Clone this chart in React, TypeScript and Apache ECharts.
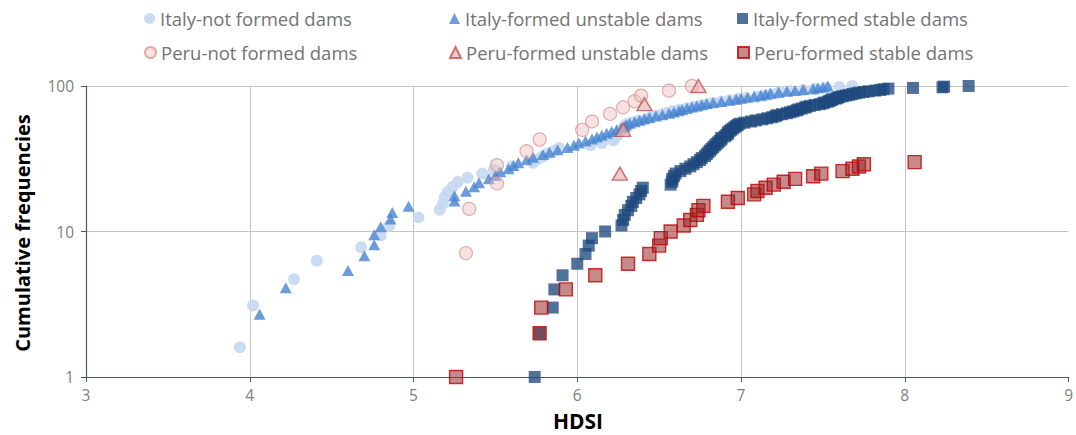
import React, { useEffect, useRef } from "react";
import * as echarts from "echarts";

// ---- Data (HDSI values and cumulative frequencies) ----
const italyNotHdsi = [3.94, 4.02, 4.27, 4.41, 4.68, 4.80, 4.85, 5.03, 5.16, 5.18, 5.19, 5.21, 5.24, 5.27, 5.33, 5.42, 5.49, 5.60, 5.73, 5.76, 5.79, 5.82, 5.86, 5.89, 6.08, 6.15, 6.22, 6.23, 6.24, 6.25, 6.26, 6.27, 6.28, 6.29, 6.30, 6.34, 6.38, 6.42, 6.45, 6.48, 6.52, 6.55, 6.58, 6.62, 6.67, 6.71, 6.75, 6.79, 6.83, 6.88, 6.93, 6.98, 7.03, 7.10, 7.14, 7.18, 7.22, 7.24, 7.30, 7.38, 7.45, 7.52, 7.60, 7.68];
const italyNotFreq = [1.6, 3.1, 4.7, 6.3, 7.8, 9.4, 10.9, 12.5, 14.1, 15.6, 17.2, 18.8, 20.3, 21.9, 23.4, 25.0, 26.6, 28.1, 29.7, 31.3, 32.8, 34.4, 35.9, 37.5, 39.1, 40.6, 42.2, 43.8, 45.3, 46.9, 48.4, 50.0, 51.6, 53.1, 54.7, 56.3, 57.8, 59.4, 60.9, 62.5, 64.1, 65.6, 67.2, 68.8, 70.3, 71.9, 73.4, 75.0, 76.6, 78.1, 79.7, 81.3, 82.8, 84.4, 85.9, 87.5, 89.1, 90.6, 92.2, 93.8, 95.3, 96.9, 98.4, 100];

const italyUnstableHdsi = [4.06, 4.22, 4.60, 4.70, 4.76, 4.76, 4.80, 4.86, 4.87, 4.97, 5.25, 5.25, 5.32, 5.37, 5.40, 5.46, 5.50, 5.53, 5.58, 5.61, 5.64, 5.69, 5.73, 5.79, 5.83, 5.88, 5.94, 5.98, 6.01, 6.05, 6.09, 6.12, 6.15, 6.18, 6.21, 6.24, 6.27, 6.29, 6.30, 6.32, 6.35, 6.38, 6.41, 6.44, 6.48, 6.52, 6.56, 6.59, 6.62, 6.64, 6.67, 6.70, 6.73, 6.76, 6.79, 6.83, 6.88, 6.93, 6.97, 7.00, 7.04, 7.08, 7.12, 7.15, 7.18, 7.23, 7.28, 7.33, 7.38, 7.44, 7.47, 7.50, 7.53];
const italyUnstableFreq = [2.7, 4.1, 5.4, 6.8, 8.1, 9.5, 10.8, 12.2, 13.5, 14.9, 16.2, 17.6, 18.9, 20.3, 21.6, 23.0, 24.3, 25.7, 27.0, 28.4, 29.7, 31.1, 32.4, 33.8, 35.1, 36.5, 37.8, 39.2, 40.5, 41.9, 43.2, 44.6, 45.9, 47.3, 48.6, 50.0, 51.4, 52.7, 54.1, 55.4, 56.8, 58.1, 59.5, 60.8, 62.2, 63.5, 64.9, 66.2, 67.6, 68.9, 70.3, 71.6, 73.0, 74.3, 75.7, 77.0, 78.4, 79.7, 81.1, 82.4, 83.8, 85.1, 86.5, 87.8, 89.2, 90.5, 91.9, 93.2, 94.6, 95.9, 97.3, 98.6, 100];

const italyStableHdsi = [5.74, 5.77, 5.85, 5.86, 5.91, 6.00, 6.05, 6.07, 6.09, 6.17, 6.27, 6.28, 6.29, 6.31, 6.33, 6.34, 6.36, 6.38, 6.39, 6.40, 6.57, 6.58, 6.58, 6.59, 6.60, 6.63, 6.66, 6.69, 6.71, 6.73, 6.75, 6.76, 6.78, 6.79, 6.80, 6.81, 6.82, 6.83, 6.84, 6.85, 6.86, 6.87, 6.88, 6.88, 6.90, 6.91, 6.92, 6.92, 6.93, 6.94, 6.95, 6.96, 6.97, 6.98, 6.99, 7.02, 7.06, 7.09, 7.13, 7.16, 7.19, 7.21, 7.22, 7.25, 7.28, 7.30, 7.32, 7.34, 7.35, 7.37, 7.39, 7.40, 7.42, 7.45, 7.48, 7.50, 7.51, 7.53, 7.54, 7.55, 7.56, 7.58, 7.59, 7.60, 7.62, 7.64, 7.66, 7.68, 7.70, 7.72, 7.75, 7.78, 7.82, 7.85, 7.87, 7.90, 8.05, 8.23, 8.24, 8.39];
const italyStableFreq = [1, 2, 3, 4, 5, 6, 7, 8, 9, 10, 11, 12, 13, 14, 15, 16, 17, 18, 19, 20, 21, 22, 23, 24, 25, 26, 27, 28, 29, 30, 31, 32, 33, 34, 35, 36, 37, 38, 39, 40, 41, 42, 43, 44, 45, 46, 47, 48, 49, 50, 51, 52, 53, 54, 55, 56, 57, 58, 59, 60, 61, 62, 63, 64, 65, 66, 67, 68, 69, 70, 71, 72, 73, 74, 75, 76, 77, 78, 79, 80, 81, 82, 83, 84, 85, 86, 87, 88, 89, 90, 91, 92, 93, 94, 95, 96, 97, 98, 99, 100];

const peruNotHdsi = [5.32, 5.34, 5.51, 5.51, 5.69, 5.77, 6.03, 6.09, 6.20, 6.28, 6.35, 6.39, 6.56, 6.70];
const peruNotFreq = [7.1, 14.3, 21.4, 28.6, 35.7, 42.9, 50.0, 57.1, 64.3, 71.4, 78.6, 85.7, 92.9, 100];

const peruUnstableHdsi = [6.26, 6.28, 6.41, 6.74];
const peruUnstableFreq = [25, 50, 75, 100];

const peruStableHdsi = [5.26, 5.77, 5.78, 5.93, 6.11, 6.31, 6.44, 6.50, 6.51, 6.57, 6.65, 6.69, 6.73, 6.74, 6.77, 6.92, 6.98, 7.08, 7.10, 7.15, 7.20, 7.26, 7.33, 7.44, 7.49, 7.62, 7.68, 7.72, 7.75, 8.06];
const peruStableFreq = [1, 2, 3, 4, 5, 6, 7, 8, 9, 10, 11, 12, 13, 14, 15, 16, 17, 18, 19, 20, 21, 22, 23, 24, 25, 26, 27, 28, 29, 30];

const seriesNames = [
  "Italy-not formed dams",
  "Italy-formed unstable dams",
  "Italy-formed stable dams",
  "Peru-not formed dams",
  "Peru-formed unstable dams",
  "Peru-formed stable dams",
];
const xTicks = [3, 4, 5, 6, 7, 8, 9];
const yTicks = [1, 10, 100];

const pairs = (xs: number[], ys: number[]) => xs.map((x, i) => [x, ys[i]]);

export default function App() {
  const ref = useRef<HTMLDivElement>(null);
  useEffect(() => {
    if (!ref.current) return;
    const chart = echarts.init(ref.current, undefined, { renderer: "svg" });
    const font = "Open Sans";
    const legendBase = {
      itemWidth: 11,
      itemHeight: 11,
      itemGap: 0,
      padding: 0,
      selectedMode: false,
      textStyle: { color: "#737373", fontSize: 18.5, fontFamily: font },
    };
    const legendPos = [
      [144, 9],
      [449, 9],
      [737, 9],
      [144, 43],
      [449, 43],
      [737, 43],
    ];
    chart.setOption({
      animation: false,
      backgroundColor: "#ffffff",
      legend: seriesNames.map((n, i) => ({
        ...legendBase,
        data: [n],
        left: legendPos[i][0],
        top: legendPos[i][1],
      })),
      grid: { left: 86, right: 7, top: 86, bottom: 58, containLabel: false },
      xAxis: {
        type: "value",
        min: xTicks[0],
        max: xTicks[xTicks.length - 1],
        interval: 1,
        axisLine: { show: true, lineStyle: { color: "#44587a", width: 1.2 } },
        axisTick: { show: true, length: 5, lineStyle: { color: "#44587a" } },
        axisLabel: { color: "#808080", fontSize: 15.5, fontFamily: font, margin: 10 },
        splitLine: { show: true, showMinLine: false, showMaxLine: false, lineStyle: { color: "#c4c4c4", width: 1 } },
      },
      yAxis: {
        type: "log",
        logBase: 10,
        min: yTicks[0],
        max: yTicks[yTicks.length - 1],
        axisLine: { show: true, lineStyle: { color: "#44587a", width: 1.2 } },
        axisTick: { show: true, length: 5, lineStyle: { color: "#44587a" } },
        axisLabel: { color: "#808080", fontSize: 15.5, fontFamily: font, margin: 12 },
        splitLine: { show: true, showMinLine: false, lineStyle: { color: "#c4c4c4", width: 1 } },
        minorTick: { show: false },
      },
      graphic: [
        {
          type: "text",
          x: 22,
          y: 233,
          rotation: Math.PI / 2,
          style: {
            text: "Cumulative frequencies",
            font: `bold 20px "${font}"`,
            fill: "#000000",
            align: "center",
            verticalAlign: "middle",
          },
        },
        {
          type: "text",
          x: 578,
          y: 421,
          style: {
            text: "HDSI",
            font: `bold 21px "${font}"`,
            fill: "#000000",
            align: "center",
            verticalAlign: "middle",
          },
        },
      ],
      series: [
        {
          name: seriesNames[0],
          type: "scatter",
          symbol: "circle",
          symbolSize: 12,
          data: pairs(italyNotHdsi, italyNotFreq),
          itemStyle: { color: "#c5d8f1", opacity: 0.9 },
        },
        {
          name: seriesNames[1],
          type: "scatter",
          symbol: "triangle",
          symbolSize: [12, 11],
          data: pairs(italyUnstableHdsi, italyUnstableFreq),
          itemStyle: { color: "#4684d2" },
        },
        {
          name: seriesNames[2],
          type: "scatter",
          symbol: "rect",
          symbolSize: 12,
          data: pairs(italyStableHdsi, italyStableFreq),
          itemStyle: { color: "#1f497d", opacity: 0.78 },
        },
        {
          name: seriesNames[3],
          type: "scatter",
          symbol: "circle",
          symbolSize: 13,
          data: pairs(peruNotHdsi, peruNotFreq),
          itemStyle: { color: "rgba(235,190,190,0.55)", borderColor: "#db9a98", borderWidth: 1.2 },
        },
        {
          name: seriesNames[4],
          type: "scatter",
          symbol: "triangle",
          symbolSize: [15, 13],
          data: pairs(peruUnstableHdsi, peruUnstableFreq),
          itemStyle: { color: "rgba(232,180,180,0.85)", borderColor: "#c0504d", borderWidth: 1.4 },
        },
        {
          name: seriesNames[5],
          type: "scatter",
          symbol: "rect",
          symbolSize: 13,
          data: pairs(peruStableHdsi, peruStableFreq),
          itemStyle: { color: "rgba(150,40,42,0.68)", borderColor: "#c00000", borderWidth: 1.4 },
        },
      ],
    });
    return () => chart.dispose();
  }, []);
  return (
    <div
      ref={ref}
      style={{ position: "fixed", left: 0, top: 0, width: 1076, height: 435, background: "#fff" }}
    />
  );
}
